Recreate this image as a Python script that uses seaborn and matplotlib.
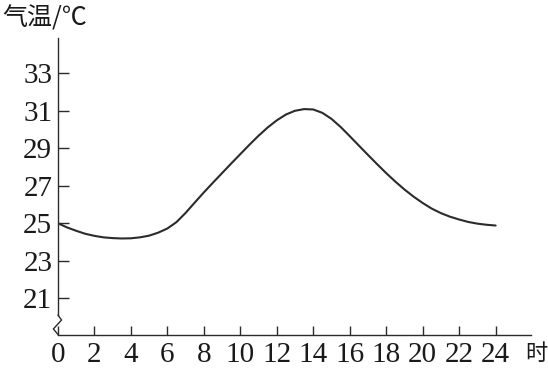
import matplotlib
matplotlib.use("Agg")
import matplotlib.pyplot as plt
import seaborn as sns
import pandas as pd
from matplotlib.lines import Line2D

hours = [0, 0.5, 1, 1.5, 2, 2.5, 3, 3.5, 4, 4.5, 5, 5.5, 6, 6.5, 7, 7.5, 8, 8.5, 9, 9.5,
         10, 10.5, 11, 11.5, 12, 12.5, 13, 13.5, 14, 14.5, 15, 15.5, 16, 16.5, 17, 17.5,
         18, 18.5, 19, 19.5, 20, 20.5, 21, 21.5, 22, 22.5, 23, 23.5, 24]
temps = [25.0, 24.78, 24.6, 24.44, 24.33, 24.25, 24.21, 24.19, 24.2, 24.25, 24.34, 24.5,
         24.72, 25.06, 25.55, 26.1, 26.64, 27.16, 27.67, 28.18, 28.68, 29.18, 29.66, 30.1,
         30.48, 30.79, 30.99, 31.08, 31.06, 30.88, 30.56, 30.13, 29.64, 29.14, 28.64, 28.15,
         27.67, 27.22, 26.8, 26.42, 26.08, 25.78, 25.54, 25.35, 25.2, 25.07, 24.98, 24.92, 24.88]
x_ticks = [0, 2, 4, 6, 8, 10, 12, 14, 16, 18, 20, 22, 24]
y_ticks = [21, 23, 25, 27, 29, 31, 33]
y_label = "气温/℃"
x_unit = "时"

sns.set_theme(style="white")
plt.rcParams['font.family'] = ['Liberation Serif', 'Noto Sans CJK SC', 'DejaVu Sans']

fig = plt.figure(figsize=(5.48, 3.69), dpi=100)
ax = fig.add_axes([57.9 / 548, 34 / 369, (531 - 57.9) / 548, (335 - 38.3) / 369])

df = pd.DataFrame({"hour": hours, "temp": temps})
sns.lineplot(data=df, x="hour", y="temp", ax=ax, color="#2b2b2b", linewidth=1.5)

ax.set_xlim(0, 25.94)
ax.set_ylim(19.05, 34.85)
ax.set_xticks(x_ticks)
ax.set_yticks(y_ticks)
ax.set_xticklabels([str(t) for t in x_ticks], fontsize=21, color="#1a1a1a")
ax.set_yticklabels([str(t) for t in y_ticks], fontsize=21, color="#1a1a1a")
ax.set_xlabel("")
ax.set_ylabel("")

for s in ["top", "right"]:
    ax.spines[s].set_visible(False)
for s in ["left", "bottom"]:
    ax.spines[s].set_color("#2b2b2b")
    ax.spines[s].set_linewidth(1.0)
ax.spines["left"].set_bounds(20.11, 34.85)

ax.tick_params(axis="y", direction="in", length=8, width=1, color="#2b2b2b", pad=4, left=True)
ax.tick_params(axis="x", direction="in", length=6.5, width=1, color="#2b2b2b", pad=5, bottom=True)

# axis break mark
brk = Line2D([0, 0.2, -0.25, 0.03], [20.11, 19.85, 19.37, 19.05],
             color="#2b2b2b", linewidth=1.0, clip_on=False, transform=ax.transData)
ax.add_line(brk)

fig.text(2 / 548, 1 - 19 / 369, y_label, fontsize=18, va="center", ha="left",
         family=['Noto Sans CJK SC', 'DejaVu Sans'], color="#1a1a1a")
fig.text(525 / 548, 1 - 354 / 369, x_unit, fontsize=16, va="center", ha="left",
         family=['Noto Sans CJK SC', 'DejaVu Sans'], color="#1a1a1a")

fig.savefig("out.png", dpi=100, facecolor="white")
